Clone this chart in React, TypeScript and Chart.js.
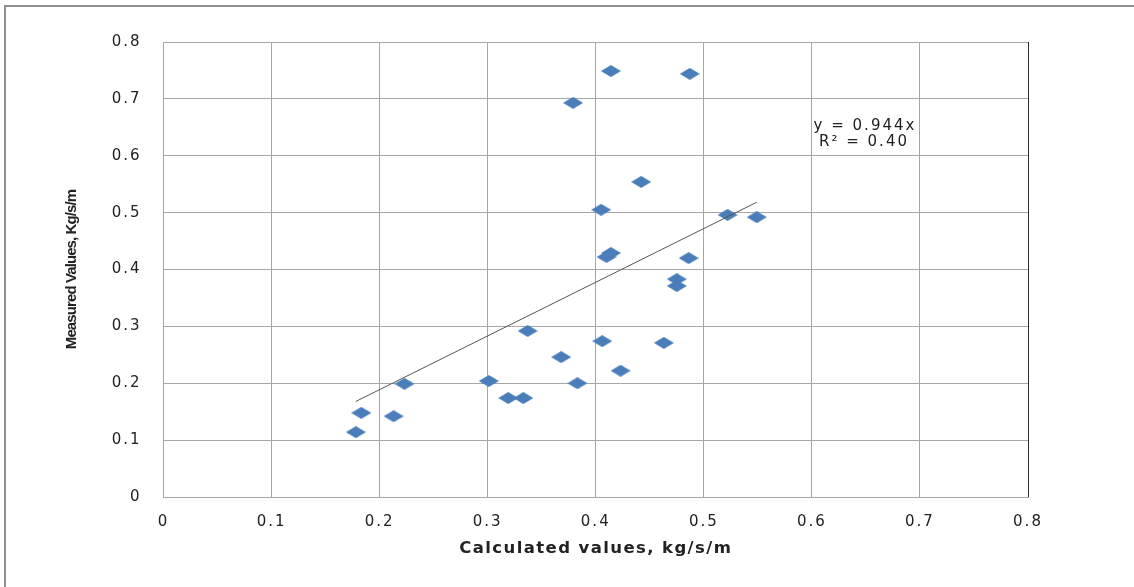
import React, { useEffect, useRef } from "react";
import { Chart, registerables } from "chart.js";

Chart.register(...registerables);

const calculated = [0.414, 0.487, 0.379, 0.442, 0.405, 0.522, 0.549, 0.414, 0.410, 0.486, 0.475, 0.475, 0.337, 0.406, 0.463, 0.368, 0.423, 0.223, 0.301, 0.383, 0.319, 0.333, 0.183, 0.213, 0.178];
const measured = [0.749, 0.744, 0.693, 0.554, 0.505, 0.496, 0.492, 0.429, 0.422, 0.420, 0.383, 0.371, 0.292, 0.274, 0.271, 0.246, 0.222, 0.199, 0.204, 0.200, 0.174, 0.174, 0.148, 0.142, 0.114];
const trendSlope = 0.944;
const trendLabel = "y = 0.944x";
const r2Label = "R\u00b2 = 0.40";
const xTickLabels = ["0", "0.1", "0.2", "0.3", "0.4", "0.5", "0.6", "0.7", "0.8"];
const yTickLabels = ["0", "0.1", "0.2", "0.3", "0.4", "0.5", "0.6", "0.7", "0.8"];
const xTitle = "Calculated values, kg/s/m";
const yTitle = "Measured Values, Kg/s/m";

export default function App() {
  const ref = useRef<HTMLCanvasElement | null>(null);

  useEffect(() => {
    const canvas = ref.current;
    if (!canvas) return;

    const diamond = document.createElement("canvas");
    diamond.width = 20;
    diamond.height = 12;
    const dctx = diamond.getContext("2d")!;
    dctx.fillStyle = "#4a7ebb";
    dctx.beginPath();
    dctx.moveTo(10, 0);
    dctx.lineTo(20, 6);
    dctx.lineTo(10, 12);
    dctx.lineTo(0, 6);
    dctx.closePath();
    dctx.fill();

    const points = calculated.map((x, i) => ({ x, y: measured[i] }));
    const xmin = Math.min(...calculated);
    const xmax = Math.max(...calculated);
    const trend = [
      { x: xmin, y: trendSlope * xmin },
      { x: xmax, y: trendSlope * xmax },
    ];

    const tickFont = { family: "'DejaVu Sans', Verdana, sans-serif", size: 15 };

    const decor = {
      id: "decor",
      beforeDraw(chart: any) {
        const c = chart.ctx;
        c.letterSpacing = "0px";
        c.save();
        c.strokeStyle = "#8f8f8f";
        c.lineWidth = 2;
        c.beginPath();
        c.moveTo(5, 587);
        c.lineTo(5, 6);
        c.lineTo(1134, 6);
        c.stroke();
        c.restore();
      },
      afterDatasetsDraw(chart: any) {
        chart.ctx.letterSpacing = "2px";
      },
      afterDraw(chart: any) {
        const c = chart.ctx;
        c.save();
        c.letterSpacing = "2px";
        c.font = "15px 'DejaVu Sans', Verdana, sans-serif";
        c.fillStyle = "#222";
        c.textAlign = "center";
        c.textBaseline = "middle";
        c.fillText(trendLabel, 865, 126);
        c.fillText(r2Label, 864, 142);
        c.restore();
        c.letterSpacing = "0px";
      },
    };

    const chart = new Chart(canvas, {
      type: "scatter",
      data: {
        datasets: [
          {
            data: points,
            pointStyle: diamond as any,
            pointRadius: 10,
            pointHoverRadius: 10,
            backgroundColor: "#4a7ebb",
            borderColor: "#4a7ebb",
            order: 1,
          },
          {
            type: "line",
            data: trend,
            borderColor: "#555555",
            borderWidth: 1,
            pointRadius: 0,
            fill: false,
            order: 0,
          } as any,
        ],
      },
      options: {
        animation: false,
        responsive: false,
        maintainAspectRatio: false,
        layout: { padding: { left: 55, right: 106, top: 42, bottom: 20 } },
        plugins: { legend: { display: false }, tooltip: { enabled: false } },
        scales: {
          x: {
            type: "linear",
            min: 0,
            max: 0.8,
            afterFit: (s: any) => {
              s.height = 70;
            },
            ticks: {
              stepSize: 0.1,
              z: 1,
              padding: 16,
              color: "#222",
              font: tickFont,
              maxRotation: 0,
              callback: (_v: any, i: number) => xTickLabels[i],
            },
            grid: {
              z: -1,
              drawTicks: false,
              color: (ctx: any) => {
                if (ctx.chart && ctx.chart.ctx) ctx.chart.ctx.letterSpacing = "1.4px";
                return ctx.index === 8 ? "#2a2a2a" : "#a6a6a6";
              },
              lineWidth: 1,
            },
            border: { color: "#a6a6a6" },
            title: {
              display: true,
              text: xTitle,
              color: "#222",
              font: { family: "'DejaVu Sans', Verdana, sans-serif", size: 16.5, weight: "bold" },
              padding: { top: 0, bottom: 8 },
            },
          },
          y: {
            type: "linear",
            min: 0,
            max: 0.8,
            afterFit: (s: any) => {
              s.width = 108.5;
            },
            ticks: {
              stepSize: 0.1,
              z: 1,
              padding: 22,
              color: "#222",
              font: tickFont,
              callback: (_v: any, i: number) => yTickLabels[i],
            },
            grid: {
              z: -2,
              drawTicks: false,
              color: (ctx: any) => {
                if (ctx.chart && ctx.chart.ctx) ctx.chart.ctx.letterSpacing = "-0.9px";
                return "#a6a6a6";
              },
              lineWidth: 1,
            },
            border: { color: "#a6a6a6" },
            title: {
              display: true,
              text: yTitle,
              color: "#222",
              font: { family: "'Liberation Sans', Arial, sans-serif", size: 15, weight: "bold" },
              padding: { top: 8, bottom: 0 },
            },
          },
        },
      },
      plugins: [decor],
    });

    return () => chart.destroy();
  }, []);

  return (
    <div style={{ position: "absolute", left: 0, top: 0, width: 1134, height: 587, background: "#fff" }}>
      <canvas ref={ref} width={1134} height={587} style={{ display: "block" }} />
    </div>
  );
}
